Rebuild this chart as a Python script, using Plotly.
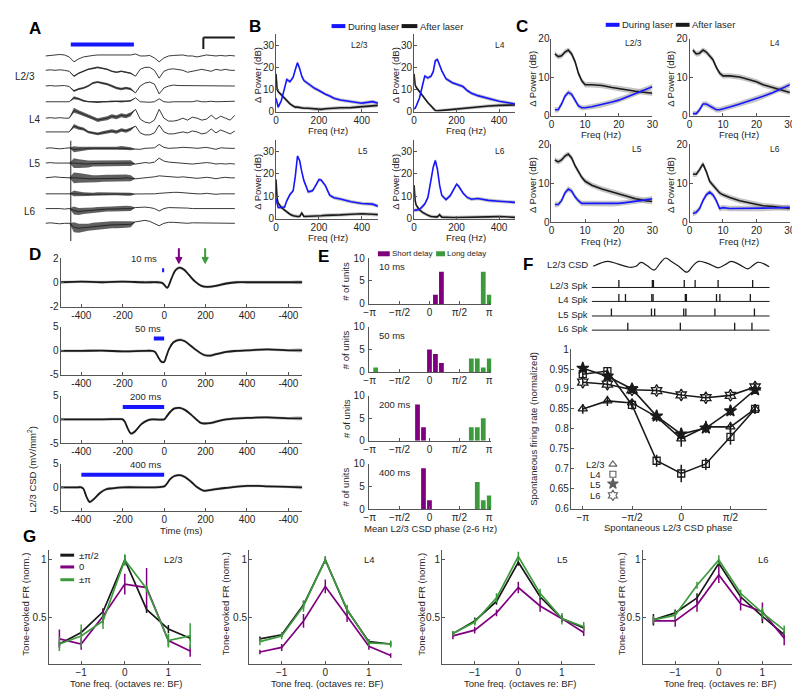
import plotly.graph_objects as go

W, H = 800, 693
FONT = "Liberation Sans, Arial, sans-serif"
BLUE = "#1717ff"
BLACK = "#1a1a1a"
PURPLE = "#7f007f"
GREEN = "#3d9a3d"
SEMGRAY = "rgba(150,150,150,0.55)"
AXC = "#555555"
TXT = "#262626"
PI = 3.141592653589793

# ---------------- Panel A data (deflections in px, up = positive) ----------------
a_time_ms = list(range(0, 1201, 30))
a_laser_ms = [160, 560]
a_scale_ms = 200
lfp_l23_1 = [0, 0.5, 1, 1.5, 1, -1, -6, -3, -1, 0, 0.5, 1, 1, 1.5, 1, 1, 1.5, 1, 1, 2, 0, 0, 0.5, -2, -6, -2, 0, 0.5, 0.5, 1, 0, 0, -1, 0, 1, 0.5, 0, 0.5, 0, 0.5, 0]
lfp_l23_2 = [0, 0.5, 0, 0.5, 0, -1, -6, -3, -1, 1, 2, 3, 2, 1, -1, -2, -1, -2, -3, -6, 1, 3, 3, 0, -8, -1, 1, 1.5, 1, 0, -2, -1, 0, 1, 0, -1, 1, 0, 1, 0, 0]
lfp_l23_3 = [0, 0.5, 0, 0, 0.5, -0.5, -5, -3, -2, 0, 3, 4, 3, 2, 0, -2, -3, -2, -3, -7, 0, 3, 4, 2, -8, -2, 0, 1, 0.5, 0.5, 0, 0, 0.5, 0, 0, 0.5, 0, 0, 0.5, 0, 0]
lfp_l4_1 = [0, 0, 0.5, 0, 0.5, 0, 4, 3, 1, 0, 0, -0.5, 0, 0, 0.5, 0.5, 0, 0.5, 1, 4, 0, -0.5, -0.5, 0, 3, 0, -0.5, 0, 0, 0.5, 0, 0, 1, 0, 0, 0.5, 0, 0, 0.5, 0, 0.5]
lfp_l4_2 = [0, 0.5, 0, 0.5, 0, 0, 8, 6, 4, 2, 0, -2, -1, 0, 2, 1, 3, 2, 4, 9, -1, -4, -5, -2, 9, 0, -3, -3, -2, 0, -2, 1, 0, -2, -1, 3, -1, 2, 0, -2, 3]
lfp_l4_3 = [0, 0, 0.5, 0, 0, 0, 6, 4, 3, 0, -1, -2, -1, 0, 1, 0, 2, 1, 3, 6, -1, -3, -3, -1, 7, 0, -2, -2, -1, 0, -1, 1, 0, -2, -1, 3, -1, 2, 0, -2, 1]
lfp_l5_1 = [0, 0.5, 0, -0.5, 0, 0.5, -1, -1, -0.5, 0, 0, 0.5, 0.5, 0, 0, 0, 0.5, 0, -0.5, -1, -1, 0, 0, 0.5, 4, 1, 0, 0, 0.5, 1, 1, 0.5, 0, 0.5, 1, 0, -1, 0.5, 0, 0, 0]
lfp_l5_2 = [0, 0.5, 0, 0, 0.5, 0, 0, -0.5, -1, -1, -0.5, -0.5, 0, 0, 0, 0, 0, 0, 0, -1, 0, 0.5, 0, 1, 5, 2, 1, 0.5, 0, 0, -0.5, -1, -0.5, 0, 0.5, 0, -1, -0.5, -1, -0.5, -1]
lfp_l5_3 = [0, 0.5, 1, 0.5, 0, 0, 0, 0, -0.5, -1, -1, -1, -0.5, -0.5, -0.5, -0.5, -0.5, 0, -0.5, -1, -0.5, 0, 0, 1, 2, 1.5, 1, 1, 0.5, 1, 0.5, 0, -0.5, 0, 0.5, 0, -1, 0, 0.5, 0, 0]
lfp_l6_1 = [0, 0, 0.5, 0, 0, 0, 0.5, 0, -0.5, -0.5, -0.5, 0, 0, 0, 0, 0, 0, -0.5, -0.5, -0.5, -0.5, 0, 0, 0, 0.5, 1, 1.5, 1.5, 1.5, 1, 1, 0.5, 0, 0, 0.5, 0, -0.5, 0, 0, 0, 0]
lfp_l6_2 = [0, 0, 0.5, 0, -0.5, 0, -2, -3, -2.5, -2, -1.5, -1, -1, -0.5, -0.5, -0.5, 0, 0, 0, 1, 1.5, 1.5, 1, 0, -2.5, 0, 1, 1, 0.5, 0.5, 0.5, 0, 0, 0.5, 0, 0, 0.5, 0, 0, 0, 0]
lfp_l6_3 = [0, 0.5, 0, -0.5, 0, 0, -4, -5, -4.5, -4, -3, -2.5, -2, -2, -1.5, -1.5, -1.5, -1, -1, 1.5, 2.5, 3, 2, 0, -2.5, 0, 1, 1, 0.5, 0.5, 0, 0.5, 0.5, 0, 0, 0.5, 0.5, 0, 0, 0, 0]
# half-width of the fast oscillation envelope, samples 5..19 of a_time_ms
osc_l23_2 = [0, 0.8, 0.8, 0.8, 0.8, 0.8, 0.8, 0.8, 0.8, 0.8, 0.8, 0.8, 0.8, 0.8, 0]
osc_l23_3 = [0, 1, 1, 1, 1, 1, 1, 1.2, 1.2, 1.2, 1.2, 1.2, 1.2, 1.2, 0]
osc_l4_1 = [0, 1.5, 1.2, 1, 0.8, 0.8, 0.8, 0.8, 0.8, 0.8, 0.8, 0.8, 0.8, 0.8, 0]
osc_l4_2 = [0, 2.5, 2, 1.8, 1.5, 1.5, 1.8, 2, 2, 2, 2, 2, 2, 2, 0]
osc_l4_3 = [0, 2, 1.8, 1.5, 1.3, 1.3, 1.5, 1.8, 1.8, 1.8, 1.8, 1.8, 1.8, 1.8, 0]
osc_l5_1 = [0, 3, 2.5, 2, 1.8, 1.5, 1.5, 1.5, 1.5, 1.5, 1.5, 1.8, 1.8, 1.5, 0]
osc_l5_2 = [0, 5, 4.5, 4, 3.5, 3, 3, 3, 3, 3, 3, 3, 3, 3, 0]
osc_l5_3 = [0, 5.5, 5, 4.5, 4, 3.5, 3.5, 3.5, 3.5, 3.5, 3.5, 3.5, 3.5, 3, 0]
osc_l6_1 = [0, 3, 2.5, 2, 1.8, 1.5, 1.5, 1.5, 1.5, 1.5, 1.5, 1.5, 1.5, 1.5, 0]
osc_l6_2 = [0, 4, 3.5, 3, 2.8, 2.5, 2.5, 2.5, 2.5, 2.5, 2.8, 2.8, 2.8, 2.5, 0]
osc_l6_3 = [0, 5, 4.5, 4, 3.5, 3.5, 3.5, 3.5, 3.5, 3.5, 3.5, 3.5, 3.5, 3, 0]

# ---------------- Panel B data ----------------
b_freq = [0, 5, 10, 25, 40, 50, 65, 80, 90, 100, 110, 120, 130, 150, 170, 180, 200, 210, 230, 250, 270, 300, 350, 400, 450, 475]
b_l23_during = [6, 3, 2, 5, 11, 14.5, 13.5, 15.5, 19, 22, 19.5, 16, 14, 12.5, 11, 10.5, 9.5, 8.8, 7.8, 7, 6, 5.2, 4.4, 3.8, 4.5, 3.8]
b_l23_after = [17, 10, 9, 7.5, 6, 5, 3.5, 2.5, 2, 2, 1.8, 1.6, 1.5, 1.5, 1.3, 1.2, 1.0, 1.0, 1.3, 1.5, 1.5, 1.7, 1.8, 2.2, 2.5, 2.8]
b_l4_during = [1.2, 1.5, 2.5, 6, 12, 16, 15.2, 16, 18, 23, 23.5, 21, 18.5, 14.8, 13.6, 13, 12.3, 12, 11.3, 9.5, 8.3, 7.2, 5.8, 4.7, 3.9, 3.4]
b_l4_after = [17, 12, 11, 9, 7, 5.8, 4, 2.5, 1.3, 0.5, 0.3, 0.4, 0.6, 0.8, 1.0, 1.0, 1.2, 1.3, 1.5, 1.7, 1.9, 2.2, 2.5, 2.8, 3.0, 3.0]
b_l5_during = [8.8, 6, 5, 5, 5.2, 8, 10.8, 12.5, 19, 28, 26, 21, 17, 12, 12.5, 14, 17.5, 17.3, 14.8, 10.5, 9.4, 8.8, 7.6, 6.8, 6.5, 5.6]
b_l5_after = [17.5, 9, 7, 5, 3.8, 3, 2, 1.3, 1, 1, 1, 2.5, 1, 1, 1.2, 1.2, 1.3, 1.3, 1.5, 1.5, 1.6, 1.7, 2, 2.2, 2, 1.8]
b_l6_during = [3.7, 3.8, 3.8, 4.1, 5.5, 6.5, 9.5, 18, 23, 26, 22, 15, 10.5, 8.5, 10.3, 12, 15.4, 14.5, 11.5, 9.5, 8.7, 9, 8.2, 7.8, 7.5, 7.3]
b_l6_after = [15, 8, 6, 4, 2.8, 2.2, 1.5, 1, 0.8, 0.8, 0.8, 1.8, 0.7, 0.5, 0.5, 0.5, 0.5, 0.5, 0.5, 0.5, 0.6, 0.7, 0.8, 1, 0.8, 0.6]
b_sem = 0.8

# ---------------- Panel C data ----------------
c_freq = [1, 2, 3, 4, 5, 6, 7, 8, 9, 10, 12, 15, 18, 20, 22, 25, 28, 30]
c_l23_during = [1.5, 1.5, 3, 5, 6, 5.5, 4, 2.5, 2, 2, 2.3, 2.8, 3.5, 4, 4.7, 5.8, 6.8, 7.5]
c_l23_after = [16, 15.3, 15.5, 16.5, 17, 16, 14, 11, 9, 8, 8, 7.8, 7.3, 7, 6.7, 6.3, 6, 5.8]
c_l4_during = [0.5, 0.5, 1.5, 3, 3, 2.5, 2, 1.5, 1.5, 1.8, 2.2, 3, 3.8, 4.3, 5, 6, 7.2, 8]
c_l4_after = [17, 16, 16.2, 17, 16.5, 15.5, 14.5, 12.5, 11, 10.3, 10.3, 10, 9.3, 8.8, 8, 7.2, 6.5, 6]
c_l5_during = [4.5, 4.5, 5.5, 7.5, 8.5, 8, 6.5, 5.5, 4.8, 4.8, 4.8, 4.7, 4.7, 4.8, 5, 5.3, 5.7, 6]
c_l5_after = [16, 15.5, 16, 17, 17.5, 16.5, 14.5, 13, 11.5, 10.5, 9.5, 8.5, 7.8, 7.2, 6.7, 6, 5.5, 5.3]
c_l6_during = [2.2, 2.5, 3.5, 5.5, 7, 7.7, 7, 5.5, 3.5, 3.7, 3.5, 3.5, 3.5, 3.5, 3.5, 3.6, 3.7, 3.8]
c_l6_after = [12.3, 12.3, 13.5, 15, 13, 10.5, 9.5, 8.5, 7.5, 7, 6.3, 5.5, 5, 4.5, 4.2, 4, 3.7, 3.5]
c_sem = 0.7

# ---------------- Panel D data ----------------
d10_t = [-500, -400, -300, -200, -100, -30, -10, 0, 15, 35, 55, 75, 95, 120, 150, 180, 210, 250, 300, 350, 400, 500, 600, 667]
d10_v = [0, 0.05, 0, 0.05, 0, 0, -0.05, -0.2, -0.45, 0.3, 1.0, 1.2, 1.05, 0.6, 0.05, -0.3, -0.38, -0.3, -0.1, 0, 0, 0, 0, 0]
d50_t = [-500, -400, -300, -200, -100, -60, -45, -30, -15, 0, 10, 25, 45, 75, 100, 130, 160, 190, 215, 250, 300, 350, 400, 500, 600, 667]
d50_v = [0, 0, 0.05, -0.1, 0, 0, -0.2, -1.2, -2.2, -2.3, -1.2, 0.5, 1.8, 2.3, 2.0, 1.0, 0, -0.8, -1.0, -0.7, -0.2, 0, 0.1, 0.3, 0.1, 0.1]
d200_t = [-500, -400, -300, -210, -200, -190, -175, -160, -140, -110, -80, -50, 0, 10, 30, 50, 75, 100, 130, 160, 180, 220, 250, 300, 400, 500, 600, 667]
d200_v = [0, 0, 0, 0.05, 0, -0.5, -2, -3, -2.5, -1, -0.2, 0, 0, 0.5, 1.6, 2.3, 2.4, 2, 1, -0.2, -0.8, -0.8, -0.5, 0, 0.3, 0.4, 0.2, 0.2]
d400_t = [-500, -420, -400, -390, -375, -360, -340, -310, -280, -250, -200, -100, -50, 0, 10, 30, 50, 75, 100, 130, 160, 190, 220, 260, 300, 400, 450, 500, 600, 667]
d400_v = [0, 0, 0, -0.3, -2, -3.1, -2.5, -1.2, -0.4, -0.2, 0, 0, 0, 0.2, 0.6, 1.8, 2.4, 2.6, 2.2, 1.2, 0, -0.7, -0.6, -0.3, -0.1, 0.3, 0.3, 0.2, 0.1, 0]
d_durations = [10, 50, 200, 400]
d_sem = [0.12, 0.3, 0.3, 0.3]
d_arrow_short_ms = 71
d_arrow_long_ms = 198
d_xticks = [-400, -200, 0, 200, 400, 600]
d_xticktext = ["-400", "-200", "0", "200", "400", "-400"]

# ---------------- Panel E data (bin centres in units of pi/10) ----------------
e10_short_bin = [1, 2];        e10_short_n = [2, 7]
e10_long_bin = [9, 10];        e10_long_n = [7, 2]
e50_short_bin = [0, 1, 2];     e50_short_n = [5, 4, 2]
e50_long_bin = [-9, 7, 8, 9, 10]; e50_long_n = [1, 3, 3, 1, 3]
e200_short_bin = [-2, -1];     e200_short_n = [8, 3]
e200_long_bin = [7, 8, 9];     e200_long_n = [3, 3, 5]
e400_short_bin = [-1, 0];      e400_short_n = [9, 2]
e400_long_bin = [8, 9, 10];    e400_long_n = [6, 2, 3]

# ---------------- Panel F data ----------------
f_csd_t = [9, 50, 92, 150, 212, 249, 277, 315, 350, 385, 415, 450, 489, 535, 570, 600, 655, 710, 750, 784, 830, 877, 905, 932, 965, 997]
f_csd_v = [-1.7, 1.5, 3.3, 0.5, -2.7, -1.7, 2.3, -1.5, -5.7, 1.5, 6.7, 3, -1.7, -7.7, -1, 3.3, 1, -3.3, 0, 3.3, 0, -4.3, -1, 2.3, 1, -2.3]
f_spk_l23 = [153, 341, 347, 520, 581, 710, 904]
f_spk_l4 = [153, 190, 338, 345, 526, 532, 701, 720, 891]
f_spk_l5 = [111, 336, 354, 517, 529, 692, 914]
f_spk_l6 = [203, 498, 803, 900]
f_phase = [-PI, -3 * PI / 4, -PI / 2, -PI / 4, 0, PI / 4, PI / 2, 3 * PI / 4]
f_l23 = [0.85, 0.87, 0.865, 0.83, 0.775, 0.805, 0.805, 0.85]
f_l4 = [0.937, 0.945, 0.86, 0.72, 0.688, 0.712, 0.78, 0.85]
f_l5 = [0.952, 0.932, 0.9, 0.832, 0.787, 0.802, 0.845, 0.898]
f_l6 = [0.917, 0.912, 0.898, 0.896, 0.885, 0.878, 0.884, 0.905]
f_l23_err = [0.012, 0.013, 0.01, 0.012, 0.02, 0.015, 0.013, 0.012]
f_l4_err = [0.012, 0.01, 0.012, 0.015, 0.022, 0.015, 0.02, 0.012]
f_l5_err = [0.01, 0.01, 0.01, 0.012, 0.015, 0.012, 0.012, 0.01]
f_l6_err = [0.008, 0.01, 0.008, 0.008, 0.008, 0.008, 0.008, 0.008]

# ---------------- Panel G data ----------------
g_oct = [-1.5, -1, -0.5, 0, 0.5, 1, 1.5]
g_l23_pi2 = [0.27, 0.37, 0.55, 1.0, 0.57, 0.40, 0.32]
g_l23_0 = [0.315, 0.27, 0.51, 0.79, 0.76, 0.30, 0.21]
g_l23_pi = [0.27, 0.34, 0.47, 1.0, 0.75, 0.30, 0.34]
g_l4_pi2 = [0.315, 0.35, 0.61, 1.0, 0.565, 0.29, 0.27]
g_l4_0 = [0.2, 0.24, 0.47, 0.77, 0.51, 0.25, 0.17]
g_l4_pi = [0.29, 0.34, 0.6, 1.0, 0.57, 0.28, 0.27]
g_l5_pi2 = [0.36, 0.47, 0.64, 0.98, 0.68, 0.49, 0.41]
g_l5_0 = [0.34, 0.39, 0.54, 0.76, 0.6, 0.49, 0.37]
g_l5_pi = [0.36, 0.46, 0.67, 1.03, 0.71, 0.49, 0.42]
g_l6_pi2 = [0.48, 0.54, 0.67, 0.97, 0.68, 0.51, 0.35]
g_l6_0 = [0.47, 0.47, 0.61, 0.87, 0.62, 0.55, 0.32]
g_l6_pi = [0.48, 0.52, 0.78, 1.0, 0.71, 0.54, 0.39]
g_l23_pi2_err = [0.02, 0.02, 0.03, 0.04, 0.03, 0.035, 0.02]
g_l23_0_err = [0.08, 0.05, 0.06, 0.09, 0.17, 0.05, 0.05]
g_l23_pi_err = [0.06, 0.1, 0.07, 0.05, 0.03, 0.06, 0.11]
g_l4_pi2_err = [0.02, 0.02, 0.03, 0.03, 0.03, 0.02, 0.02]
g_l4_0_err = [0.02, 0.03, 0.06, 0.06, 0.05, 0.03, 0.02]
g_l4_pi_err = [0.03, 0.03, 0.05, 0.03, 0.04, 0.03, 0.03]
g_l5_pi2_err = [0.02, 0.03, 0.03, 0.03, 0.03, 0.03, 0.02]
g_l5_0_err = [0.03, 0.03, 0.03, 0.05, 0.05, 0.03, 0.03]
g_l5_pi_err = [0.02, 0.03, 0.04, 0.04, 0.04, 0.05, 0.04]
g_l6_pi2_err = [0.05, 0.03, 0.04, 0.03, 0.03, 0.06, 0.03]
g_l6_0_err = [0.03, 0.05, 0.06, 0.07, 0.06, 0.08, 0.06]
g_l6_pi_err = [0.03, 0.04, 0.03, 0.04, 0.03, 0.05, 0.04]

# ====================================================================
fig = go.Figure()
layout = dict(width=W, height=H, margin=dict(l=0, r=0, t=0, b=0),
              paper_bgcolor="white", plot_bgcolor="white", showlegend=False,
              barmode="overlay", font=dict(family=FONT, size=10, color=TXT))
annotations = []
shapes = []
n_ax = [0]
TS = 9.5  # axis-title size


def add_axes(X0, X1, Y0, Y1, xr, yr, xt=None, yt=None, visible=True, ystand=-1):
    n_ax[0] += 1
    s = "" if n_ax[0] == 1 else str(n_ax[0])
    base = dict(showline=True, linecolor=AXC, linewidth=1, ticks="inside", ticklen=3,
                tickcolor=AXC, tickwidth=1, showgrid=False, zeroline=False, fixedrange=True,
                tickfont=dict(size=10, color=TXT, family=FONT), visible=visible)
    xa = dict(base, domain=[X0 / W, X1 / W], range=xr, anchor="y" + s, ticklabelstandoff=-1)
    ya = dict(base, domain=[1 - Y1 / H, 1 - Y0 / H], range=yr, anchor="x" + s, ticklabelstandoff=ystand)
    if xt is not None:
        xa.update(tickmode="array", tickvals=xt[0], ticktext=xt[1])
    if yt is not None:
        ya.update(tickmode="array", tickvals=yt[0], ticktext=yt[1])
    layout["xaxis" + s] = xa
    layout["yaxis" + s] = ya
    return "x" + s, "y" + s


def ann(text, X, Y, size=TS, xanchor="center", yanchor="middle", angle=0, bold=False, color=TXT):
    if bold:
        text = "<b>" + text + "</b>"
    annotations.append(dict(text=text, x=X / W, y=1 - Y / H, xref="paper", yref="paper",
                            showarrow=False, xanchor=xanchor, yanchor=yanchor, textangle=angle,
                            font=dict(size=size, color=color, family=FONT)))


def seg(X0, X1, Y0, Y1, color, width):
    shapes.append(dict(type="line", xref="paper", yref="paper", x0=X0 / W, x1=X1 / W,
                       y0=1 - Y0 / H, y1=1 - Y1 / H, line=dict(color=color, width=width)))


def line(xa, ya, x, y, color, width, shape="linear"):
    fig.add_trace(go.Scatter(x=list(x), y=list(y), mode="lines", xaxis=xa, yaxis=ya,
                             line=dict(color=color, width=width, shape=shape),
                             hoverinfo="skip"))


def band(xa, ya, x, y, err, color, shape="linear"):
    x = list(x)
    if not isinstance(err, (list, tuple)):
        err = [err] * len(y)
    hi = [a + e for a, e in zip(y, err)]
    lo = [a - e for a, e in zip(y, err)]
    fig.add_trace(go.Scatter(x=x + x[::-1], y=hi + lo[::-1], mode="lines", fill="toself",
                             fillcolor=color, line=dict(width=0, shape=shape), xaxis=xa, yaxis=ya,
                             hoverinfo="skip"))


# ---------------- Panel A ----------------
xa, ya = add_axes(33, 225, 18, 235, [0, 1200], [-235, -18], visible=False)
a_traces = [lfp_l23_1, lfp_l23_2, lfp_l23_3, lfp_l4_1, lfp_l4_2, lfp_l4_3,
            lfp_l5_1, lfp_l5_2, lfp_l5_3, lfp_l6_1, lfp_l6_2, lfp_l6_3]
a_osc = [None, osc_l23_2, osc_l23_3, osc_l4_1, osc_l4_2, osc_l4_3,
         osc_l5_1, osc_l5_2, osc_l5_3, osc_l6_1, osc_l6_2, osc_l6_3]
a_base_px = [42.7, 57.3, 73.3, 89.3, 106, 120, 136.7, 151.7, 166.7, 183, 198, 213]
for vals, env, base in zip(a_traces, a_osc, a_base_px):
    yv = [-base + v for v in vals]
    if env is not None:
        tt = a_time_ms[5:20]
        band(xa, ya, tt, yv[5:20], env, "rgba(35,35,35,0.72)")
    line(xa, ya, a_time_ms, yv, "#222222", 0.9)
line(xa, ya, [a_laser_ms[0], a_laser_ms[0]], [-129, -231], "#222222", 1)
line(xa, ya, a_laser_ms, [-31, -31], BLUE, 4)
line(xa, ya, [1200 - a_scale_ms, 1200, None, 1200 - a_scale_ms, 1200 - a_scale_ms],
     [-24, -24, None, -24, -35.5], BLACK, 2)
ann("A", 22, 15, size=17, bold=True, color="black")
for lab, X, Y in zip(["L2/3", "L4", "L5", "L6"], [24, 30, 30, 25], [63.3, 107.3, 151.7, 201]):
    ann(lab, X, Y, size=10, xanchor="right")

# ---------------- Panel B ----------------
b_sets = [(b_l23_during, b_l23_after, "L2/3"), (b_l4_during, b_l4_after, "L4"),
          (b_l5_during, b_l5_after, "L5"), (b_l6_during, b_l6_after, "L6")]
b_boxes = [(266.7, 370, 20.4, 99.3), (406.7, 509, 20.4, 99.3),
           (266.7, 370, 128.6, 208.3), (406.7, 509, 128.6, 208.3)]
for (dur, aft, lab), (X0, X1, Y0, Y1) in zip(b_sets, b_boxes):
    xa, ya = add_axes(X0, X1, Y0, Y1, [0, 475], [0, 35],
                      xt=([0, 200, 400], ["0", "200", "400"]),
                      yt=([0, 10, 20, 30], ["0", "10", "20", "30"]))
    band(xa, ya, b_freq, aft, b_sem, SEMGRAY)
    band(xa, ya, b_freq, dur, b_sem, SEMGRAY)
    line(xa, ya, b_freq, aft, BLACK, 1.6)
    line(xa, ya, b_freq, dur, BLUE, 1.6)
    ann(lab, X1 - 8, Y0 + 11, size=8.5, xanchor="right")
    ann("Δ Power (dB)", X0 - 19, (Y0 + Y1) / 2 + 2, angle=-90)
    ann("Freq (Hz)", (X0 + X1) / 2 + 1, Y1 + 19.5)
ann("B", 245, 13, size=17, bold=True, color="black")
seg(323, 337, 12.3, 12.3, BLUE, 4)
ann("During laser", 338, 12.3, size=9.5, xanchor="left")
seg(394, 410, 12.3, 12.3, BLACK, 4)
ann("After laser", 410.5, 12.3, size=9.5, xanchor="left")

# ---------------- Panel C ----------------
c_sets = [(c_l23_during, c_l23_after, "L2/3"), (c_l4_during, c_l4_after, "L4"),
          (c_l5_during, c_l5_after, "L5"), (c_l6_during, c_l6_after, "L6")]
c_boxes = [(546, 648.3, 25, 103.3), (686, 787.7, 25, 103.3),
           (546, 648.3, 132.7, 211.7), (686, 787.7, 132.7, 211.7)]
for (dur, aft, lab), (X0, X1, Y0, Y1) in zip(c_sets, c_boxes):
    xa, ya = add_axes(X0, X1, Y0, Y1, [0, 30], [0, 20],
                      xt=([0, 10, 20, 30], ["0", "10", "20", "30"]),
                      yt=([0, 10, 20], ["0", "10", "20"]))
    band(xa, ya, c_freq, aft, c_sem, SEMGRAY)
    band(xa, ya, c_freq, dur, c_sem, SEMGRAY)
    line(xa, ya, c_freq, aft, BLACK, 1.6)
    line(xa, ya, c_freq, dur, BLUE, 1.6)
    ann(lab, X1 - 8, Y0 + 5, size=8.5, xanchor="right")
    ann("Δ Power (dB)", X0 - 20, (Y0 + Y1) / 2 + 2, angle=-90)
    ann("Freq (Hz)", (X0 + X1) / 2 - 0.5, Y1 + 19.5)
ann("C", 516, 13, size=17, bold=True, color="black")
seg(601, 615, 11, 11, BLUE, 4)
ann("During laser", 615.5, 11, size=9.5, xanchor="left")
seg(672, 686, 11, 11, BLACK, 4)
ann("After laser", 686.5, 11, size=9.5, xanchor="left")

# ---------------- Panel D ----------------
d_sets = [(d10_t, d10_v), (d50_t, d50_v), (d200_t, d200_v), (d400_t, d400_v)]
d_boxes = [(248.3, 297.7), (318.3, 367.3), (388.3, 436.7), (457.7, 505.7)]
d_bar_y = [1.0, 2.56, 2.6, 2.65]
D_X0, D_X1, D_XR = 48.3, 293.3, [-500, 667]
for i, ((tt, vv), (Y0, Y1), dur, sem, by) in enumerate(zip(d_sets, d_boxes, d_durations, d_sem, d_bar_y)):
    yr = [-2, 2] if i == 0 else [-5, 5]
    yt = ([-2, 0, 2], ["-2", "0", "2"]) if i == 0 else ([-5, 0, 5], ["-5", "0", "5"])
    xa, ya = add_axes(D_X0, D_X1, Y0, Y1, D_XR, yr, xt=(d_xticks, d_xticktext), yt=yt)
    band(xa, ya, tt, vv, sem, "rgba(160,160,160,0.6)", shape="spline")
    line(xa, ya, tt, vv, BLACK, 1.8, shape="spline")
    line(xa, ya, [-dur, 0], [by, by], BLUE, 4)
    annotations.append(dict(text=f"{dur} ms", x=0, y=by, xref=xa, yref=ya, showarrow=False,
                            xanchor="right", yanchor="bottom", yshift=3 if i else 4, xshift=-1 if i else -5,
                            font=dict(size=9.5, color=TXT, family=FONT)))
    if i == 0:
        # arrows above the first trace; map data y to paper so they are not clipped
        def ypaper(v, Y0=Y0, Y1=Y1, yr=yr):
            Y = Y1 - (v - yr[0]) / (yr[1] - yr[0]) * (Y1 - Y0)
            return 1 - Y / H
        for tms, col in [(d_arrow_short_ms, PURPLE), (d_arrow_long_ms, GREEN)]:
            shapes.append(dict(type="line", xref=xa, yref="paper", x0=tms, x1=tms,
                               y0=ypaper(2.8), y1=ypaper(1.95), line=dict(color=col, width=2)))
            shapes.append(dict(type="path", xref=xa, yref="paper",
                               path=f"M {tms - 15},{ypaper(2.05)} L {tms + 15},{ypaper(2.05)} L {tms},{ypaper(1.55)} Z",
                               fillcolor=col, line=dict(color=col, width=1)))
ann("D", 22, 245, size=17, bold=True, color="black")
ann("Time (ms)", 170, 526)
ann("L2/3 CSD (mV/mm<sup>2</sup>)", 19, 463, angle=-90)

# ---------------- Panel E ----------------
e_sets = [(e10_short_bin, e10_short_n, e10_long_bin, e10_long_n, "10 ms"),
          (e50_short_bin, e50_short_n, e50_long_bin, e50_long_n, "50 ms"),
          (e200_short_bin, e200_short_n, e200_long_bin, e200_long_n, "200 ms"),
          (e400_short_bin, e400_short_n, e400_long_bin, e400_long_n, "400 ms")]
e_boxes = [(248.3, 295), (318.3, 364.3), (388.3, 434.3), (457.7, 504)]
pi_ticks = ([-PI, -PI / 2, 0, PI / 2, PI], ["\u2212\u03c0", "\u2212\u03c0/2", "0", "\u03c0/2", "\u03c0"])
for (sb, sn, lb, ln, lab), (Y0, Y1) in zip(e_sets, e_boxes):
    xa, ya = add_axes(360.7, 485, Y0, Y1, [-PI - 0.05, PI + 0.11], [0, 10],
                      xt=pi_ticks, yt=([0, 5, 10], ["0", "5", "10"]), ystand=1)
    fig.add_trace(go.Bar(x=[b * PI / 10 for b in sb], y=sn, width=0.25, marker=dict(color=PURPLE, line=dict(width=0)),
                         xaxis=xa, yaxis=ya, hoverinfo="skip"))
    fig.add_trace(go.Bar(x=[b * PI / 10 for b in lb], y=ln, width=0.25, marker=dict(color=GREEN, line=dict(width=0)),
                         xaxis=xa, yaxis=ya, hoverinfo="skip"))
    ann(lab, 369, Y0 + 9, size=9.5, xanchor="left")
    ann("# of units", 337.5, (Y0 + Y1) / 2, angle=-90)
ann("Mean L2/3 CSD phase (2-6 Hz)", 423, 524)
ann("E", 315, 246.7, size=17, bold=True, color="black")
seg(370, 382, 244, 244, PURPLE, 5)
ann("Short delay", 382.5, 244, size=8, xanchor="left")
seg(429, 438, 244, 244, GREEN, 5)
ann("Long delay", 438.5, 244, size=8, xanchor="left")

# ---------------- Panel F (top: example traces) ----------------
xa, ya = add_axes(586.7, 767.3, 235, 330, [0, 1000], [-330, -235], visible=False)
line(xa, ya, f_csd_t, [-255 + v for v in f_csd_v], BLACK, 1.2, shape="spline")
f_rows = [(f_spk_l23, 278.3, "L2/3 Spk"), (f_spk_l4, 292.5, "L4 Spk"),
          (f_spk_l5, 307.3, "L5 Spk"), (f_spk_l6, 321.7, "L6 Spk")]
for spk, Yr, lab in f_rows:
    line(xa, ya, [0, 1000], [-Yr, -Yr], BLACK, 1)
    sx, sy = [], []
    for s in spk:
        sx += [s, s, None]
        sy += [-Yr, -Yr + 7.5, None]
    line(xa, ya, sx, sy, BLACK, 1.3)
    ann(lab, 585, Yr - 2, size=9.5, xanchor="right")
ann("L2/3 CSD", 585, 255, size=9.5, xanchor="right")
ann("F", 521.7, 255, size=17, bold=True, color="black")

# ---------------- Panel F (main) ----------------
xa, ya = add_axes(565.7, 764.3, 341, 503.3, [-3.52, 2.73], [0.6, 1.0],
                  xt=([-PI, -PI / 2, 0, PI / 2], ["\u2212\u03c0", "\u2212\u03c0/2", "0", "\u03c0/2"]),
                  yt=([0.6, 0.65, 0.7, 0.75, 0.8, 0.85, 0.9, 0.95, 1.0],
                      ["0.6", "0.65", "0.7", "0.75", "0.8", "0.85", "0.9", "0.95", "1"]))
f_series = [(f_l6, f_l6_err, "hexagram-open", 9), (f_l23, f_l23_err, "triangle-up-open", 8),
            (f_l4, f_l4_err, "square-open", 7), (f_l5, f_l5_err, "star", 9)]
for vals, err, sym, sz in f_series:
    fig.add_trace(go.Scatter(x=f_phase, y=vals, mode="lines+markers", xaxis=xa, yaxis=ya,
                             line=dict(color=BLACK, width=1.6),
                             marker=dict(symbol=sym, size=sz, color=BLACK, line=dict(color=BLACK, width=1.3)),
                             error_y=dict(type="data", array=err, color=BLACK, thickness=1.5, width=0),
                             hoverinfo="skip"))
f_leg_y = [0.711, 0.686, 0.662, 0.633]
f_leg_sym = ["triangle-up-open", "square-open", "star", "hexagram-open"]
fig.add_trace(go.Scatter(x=[-2.18] * 4, y=f_leg_y, mode="markers", xaxis=xa, yaxis=ya,
                         marker=dict(symbol=f_leg_sym, size=[7, 6, 8, 8], color=BLACK,
                                     line=dict(color=BLACK, width=1.1)), hoverinfo="skip"))
for lab, Y in zip(["L2/3", "L4", "L5", "L6"], [458.3, 468.3, 478.3, 490]):
    ann(lab, 591, Y, size=9.5)
ann("Spontaneous firing rate (normalized)", 527.7, 421.7, angle=-90)
ann("Spontaneous L2/3 CSD phase", 664, 523)

# ---------------- Panel G ----------------
g_sets = [(g_l23_pi2, g_l23_0, g_l23_pi, g_l23_pi2_err, g_l23_0_err, g_l23_pi_err, "L2/3"),
          (g_l4_pi2, g_l4_0, g_l4_pi, g_l4_pi2_err, g_l4_0_err, g_l4_pi_err, "L4"),
          (g_l5_pi2, g_l5_0, g_l5_pi, g_l5_pi2_err, g_l5_0_err, g_l5_pi_err, "L5"),
          (g_l6_pi2, g_l6_0, g_l6_pi, g_l6_pi2_err, g_l6_0_err, g_l6_pi_err, "L6")]
g_left = [36, 239.3, 435, 638.3]
g_ytitle_x = [12.7, 215, 413.3, 616.7]
for (p2, z, p, e2, ez, ep, lab), X0, XT in zip(g_sets, g_left, g_ytitle_x):
    X1 = X0 + 154.7
    xa, ya = add_axes(X0, X1, 545, 661, [-1.75, 1.75], [0.1, 1.09],
                      xt=([-1, 0, 1], ["\u22121", "0", "1"]), yt=([0.5, 1], ["0.5", "1"]))
    for vals, err, col in [(p2, e2, BLACK), (z, ez, PURPLE), (p, ep, GREEN)]:
        fig.add_trace(go.Scatter(x=g_oct, y=vals, mode="lines", xaxis=xa, yaxis=ya,
                                 line=dict(color=col, width=1.7),
                                 error_y=dict(type="data", array=err, color=col, thickness=1.5, width=0),
                                 hoverinfo="skip"))
    ann("Tone-evoked FR (norm.)", XT, 600.5, angle=-90)
    ann("Tone freq. (octaves re: BF)", (X0 + X1) / 2 + 1.5, 681)
    ann(lab, X0 + 115, 555, size=9.5, xanchor="left")
ann("G", 17, 531.7, size=17, bold=True, color="black")
seg(48, 62, 550.7, 550.7, BLACK, 3)
ann("\u00b1\u03c0/2", 65, 550.7, size=9.5, xanchor="left")
seg(48, 62, 562.7, 562.7, PURPLE, 3)
ann("0", 65, 562.7, size=9.5, xanchor="left")
seg(48, 62, 575.7, 575.7, GREEN, 3)
ann("\u00b1\u03c0", 65, 575.7, size=9.5, xanchor="left")

layout["annotations"] = annotations
layout["shapes"] = shapes
fig.update_layout(**layout)
fig.write_html("out.html")
